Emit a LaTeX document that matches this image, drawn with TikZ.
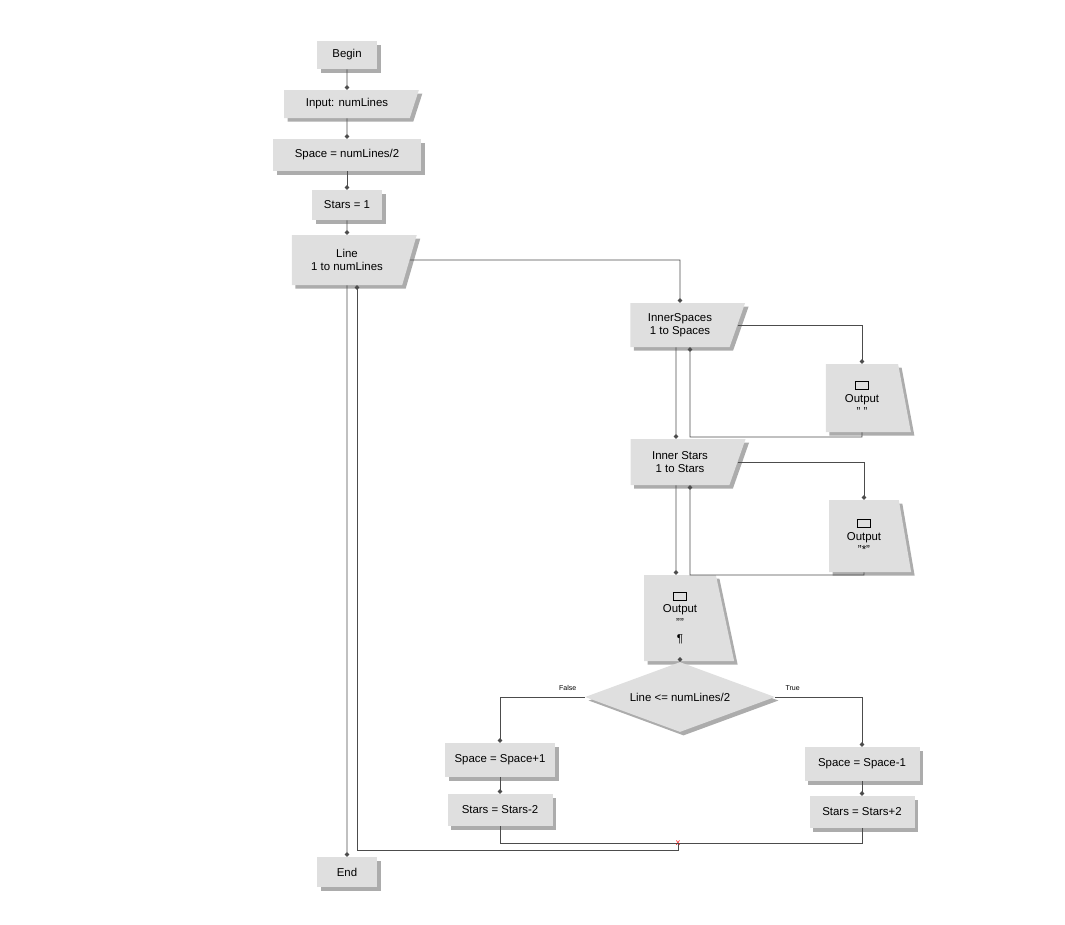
\documentclass[tikz,border=0pt]{standalone}
\usepackage{fontspec}
\setmainfont{Liberation Sans}
\usetikzlibrary{shapes.geometric,shadows,arrows.meta}
\newcommand{\scrbox}{{\setlength{\fboxsep}{0pt}\setlength{\fboxrule}{0.6pt}\fbox{\rule{0pt}{4pt}\hspace{7pt}}}}
\begin{document}
\begin{tikzpicture}[x=0.02cm,y=-0.02cm,
  base/.style={fill=gray!25,font=\fontsize{6.5}{7.5}\selectfont,align=center,inner sep=2pt,
     drop shadow={shadow xshift=2pt,shadow yshift=-2pt,fill=gray!65,opacity=1}},
  box/.style={base,rectangle},
  slant/.style={base,trapezium,trapezium left angle=90,trapezium right angle=110,trapezium stretches=true},
  outp/.style={base,trapezium,trapezium left angle=90,trapezium right angle=80,trapezium stretches=true},
  dia/.style={base,diamond,aspect=2.7,inner sep=0pt},
  ln/.style={draw=gray!60!black,line width=0.5pt,-{Circle[length=2.5pt]}},
  pl/.style={draw=gray!60!black,line width=0.5pt}]
\useasboundingbox (0,0) rectangle (1065,924);
\node[box,minimum width=60*0.02cm,minimum height=28*0.02cm] (begin) at (347,55) {Begin};
\node[slant,minimum width=135*0.02cm,minimum height=28*0.02cm] (input) at (347,104) {Input: numLines};
\node[box,minimum width=148*0.02cm,minimum height=32*0.02cm] (space) at (347,155) {Space = numLines/2};
\node[box,minimum width=70*0.02cm,minimum height=30*0.02cm] (stars) at (347,205) {Stars = 1};
\node[slant,minimum width=125*0.02cm,minimum height=50*0.02cm] (line) at (347,260) {Line\\1 to numLines};
\node[slant,minimum width=115*0.02cm,minimum height=44*0.02cm] (l1) at (680,325) {InnerSpaces\\1 to Spaces};
\node[outp,minimum width=85*0.02cm,minimum height=68*0.02cm] (o1) at (862,398) {\scrbox\\Output\\" "};
\node[slant,minimum width=115*0.02cm,minimum height=46*0.02cm] (l2) at (680,462) {Inner Stars\\1 to Stars};
\node[outp,minimum width=82*0.02cm,minimum height=72*0.02cm] (o2) at (864,536) {\scrbox\\Output\\"*"};
\node[outp,minimum width=90*0.02cm,minimum height=86*0.02cm] (o3) at (680,618) {\scrbox\\Output\\""\\[2pt]¶};
\node[dia,minimum width=190*0.02cm,minimum height=70*0.02cm] (cond) at (680,697) {Line <= numLines/2};
\node[box,minimum width=110*0.02cm,minimum height=34*0.02cm] (sp1) at (500,760) {Space = Space+1};
\node[box,minimum width=105*0.02cm,minimum height=32*0.02cm] (st1) at (500,810) {Stars = Stars-2};
\node[box,minimum width=115*0.02cm,minimum height=34*0.02cm] (sp2) at (862,764) {Space = Space-1};
\node[box,minimum width=105*0.02cm,minimum height=32*0.02cm] (st2) at (862,812) {Stars = Stars+2};
\node[box,minimum width=60*0.02cm,minimum height=30*0.02cm] (end) at (347,872) {End};
\coordinate (m) at (678,843);
\coordinate (m2) at (678,850);
\node[text=red,font=\tiny,inner sep=0pt] (mk) at (m) {x};
\draw[ln] (begin) -- (input);
\draw[ln] (input) -- (space);
\draw[ln] (space) -- (stars);
\draw[ln] (stars) -- (line);
\draw[ln] (line.south) -- (end.north);
\draw[ln] (line.east) -- (680,260) -- (l1.north);
\draw[ln] (l1.east) -| (o1.north);
\draw[ln] (o1.south) -- (862,437) -| ([xshift=10*0.02cm]l1.south);
\draw[ln] ([xshift=-4*0.02cm]l1.south) -- ([xshift=-4*0.02cm]l2.north);
\draw[ln] (l2.east) -| (o2.north);
\draw[ln] (o2.south) -- (864,575) -| ([xshift=10*0.02cm]l2.south);
\draw[ln] ([xshift=-4*0.02cm]l2.south) -- ([xshift=-4*0.02cm]o3.north);
\draw[ln] (o3.south) -- (cond.north);
\draw[ln] (cond.west) -| node[pos=0.1,above,font=\fontsize{4}{5}\selectfont]{False} (sp1.north);
\draw[ln] (cond.east) -| node[pos=0.1,above,font=\fontsize{4}{5}\selectfont]{True} (sp2.north);
\draw[ln] (sp1) -- (st1);
\draw[ln] (sp2) -- (st2);
\draw[pl] (st1.south) |- (m);
\draw[pl] (st2.south) |- (m);
\draw[ln] (m) -- (m2) -| ([xshift=10*0.02cm]line.south);
\end{tikzpicture}
\end{document}
